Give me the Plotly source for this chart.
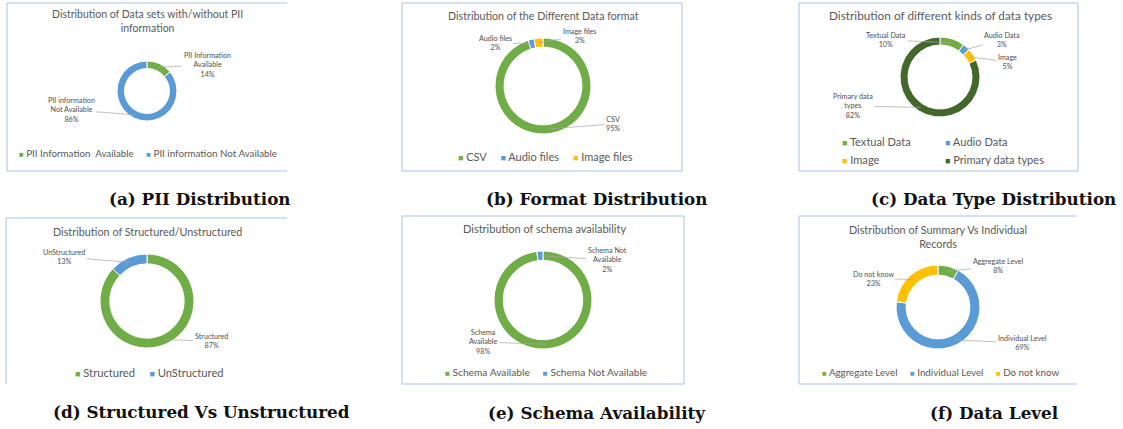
import math
import plotly.graph_objects as go

W, H = 1123, 429

# ---------------- data ----------------
pii_labels = ["PII Information  Available", "PII information Not Available"]
pii_text = ["PII Information<br>Available", "PII information<br>Not Available"]
pii_values = [14, 86]

fmt_labels = ["CSV", "Audio files", "Image files"]
fmt_text = ["CSV", "Audio files", "Image files"]
fmt_values = [95, 2, 3]

dtype_labels = ["Textual Data", "Audio Data", "Image", "Primary data types"]
dtype_text = ["Textual Data", "Audio Data", "Image", "Primary data<br>types"]
dtype_values = [10, 3, 5, 82]

struct_labels = ["Structured", "UnStructured"]
struct_text = ["Structured", "UnStructured"]
struct_values = [87, 13]

schema_labels = ["Schema Available", "Schema Not Available"]
schema_text = ["Schema<br>Available", "Schema Not<br>Available"]
schema_values = [98, 2]

level_labels = ["Aggregate Level", "Individual Level", "Do not know"]
level_text = ["Aggregate Level", "Individual Level", "Do not know"]
level_values = [8, 69, 23]

chart_titles = [
    "Distribution of Data sets with/without PII<br>information",
    "Distribution of the Different Data format",
    "Distribution of different kinds of data types",
    "Distribution of Structured/Unstructured",
    "Distribution of schema availability",
    "Distribution of Summary Vs Individual<br>Records",
]
captions = [
    "(a) PII Distribution",
    "(b) Format Distribution",
    "(c) Data Type Distribution",
    "(d) Structured Vs Unstructured",
    "(e) Schema Availability",
    "(f) Data Level",
]

# ---------------- styling ----------------
GREEN, BLUE, ORANGE, DKGREEN = "#70AD47", "#5B9BD5", "#FFC000", "#43682B"
TXT = "#595959"
FRAME = "#A9C1E8"
FONT = "Lato"

panels = [
    dict(labels=pii_labels, text=pii_text, values=pii_values, colors=[GREEN, BLUE],
         c=(147, 91), r=30, hole=0.75,
         frame=(7, 3, 287, 171), sides="ltb",
         title=(147, 21), tsize=10.5,
         lab=[(207, 65), (71, 110)],
         leg=[(148, 153, "center", [0, 1])], lsize=9.8),
    dict(labels=fmt_labels, text=fmt_text, values=fmt_values, colors=[GREEN, BLUE, ORANGE],
         c=(543, 86), r=48, hole=0.81,
         frame=(402, 3, 682, 171), sides="ltbr",
         title=(543, 15), tsize=10.7,
         lab=[(613, 124), (495, 43), (579, 36)],
         leg=[(545, 157, "center", [0, 1, 2])], lsize=11),
    dict(labels=dtype_labels, text=dtype_text, values=dtype_values, colors=[GREEN, BLUE, ORANGE, DKGREEN],
         c=(940, 77), r=40, hole=0.8,
         frame=(799, 3, 1078, 171), sides="ltbr",
         title=(940, 15), tsize=11.8,
         lab=[(886, 40), (1002, 40), (1007, 62), (853, 106)],
         leg=[(840, 141, "left", [0]), (943, 141, "left", [1]),
              (840, 159, "left", [2]), (943, 159, "left", [3])], lsize=11.1),
    dict(labels=struct_labels, text=struct_text, values=struct_values, colors=[GREEN, BLUE],
         c=(147, 301), r=47, hole=0.79,
         frame=(6, 218, 287, 384), sides="lt",
         title=(147, 231), tsize=10.8,
         lab=[(211, 341), (64, 257)],
         leg=[(149, 372, "center", [0, 1])], lsize=11.2),
    dict(labels=schema_labels, text=schema_text, values=schema_values, colors=[GREEN, BLUE],
         c=(543, 300), r=49, hole=0.81,
         frame=(402, 216, 684, 384), sides="ltbr",
         title=(544, 228), tsize=11,
         lab=[(483, 342), (607, 260)],
         leg=[(546, 372, "center", [0, 1])], lsize=10.2),
    dict(labels=level_labels, text=level_text, values=level_values, colors=[GREEN, BLUE, ORANGE],
         c=(938, 307), r=42, hole=0.76,
         frame=(799, 216, 1077, 384), sides="ltb",
         title=(938, 236.5), tsize=10.8,
         lab=[(998, 266), (1022, 343), (873, 279)],
         leg=[(940, 372, "center", [0, 1, 2])], lsize=9.8),
]
caption_pos = [(200, 199), (597, 199), (993, 199), (201, 412), (597, 413), (994, 413)]


def px(x):
    return x / W


def py(y):
    return 1 - y / H


fig = go.Figure()
shapes = []
annotations = []

for i, p in enumerate(panels):
    cx, cy = p["c"]
    r = p["r"]
    fig.add_trace(go.Pie(
        labels=p["labels"], values=p["values"], hole=p["hole"],
        sort=False, direction="clockwise", rotation=0,
        marker=dict(colors=p["colors"], line=dict(color="white", width=1)),
        textinfo="none", hoverinfo="label+percent", showlegend=False,
        domain=dict(x=[px(cx - r), px(cx + r)], y=[py(cy + r), py(cy - r)]),
    ))

    # frame
    x0, y0, x1, y1 = p["frame"]
    seg = {"l": (x0, y0, x0, y1), "t": (x0, y0, x1, y0),
           "b": (x0, y1, x1, y1), "r": (x1, y0, x1, y1)}
    for s in p["sides"]:
        a, b, c, d = seg[s]
        shapes.append(dict(type="line", xref="paper", yref="paper",
                           x0=px(a), y0=py(b), x1=px(c), y1=py(d),
                           line=dict(color=FRAME, width=1)))

    # chart title
    tx, ty = p["title"]
    annotations.append(dict(text=chart_titles[i], x=px(tx), y=py(ty), xref="paper", yref="paper",
                            showarrow=False, xanchor="center", yanchor="middle",
                            font=dict(family=FONT, size=p["tsize"], color=TXT)))

    # data labels with leader lines
    total = sum(p["values"])
    cum = 0
    rm = r * (1 + p["hole"]) / 2
    for j, v in enumerate(p["values"]):
        mid = (cum + v / 2) / total * 2 * math.pi
        cum += v
        tipx = cx + rm * math.sin(mid)
        tipy = cy - rm * math.cos(mid)
        lx, ly = p["lab"][j]
        pct = round(v / total * 100)
        annotations.append(dict(
            text=f"{p['text'][j]}<br>{pct}%", x=px(tipx), y=py(tipy), xref="paper", yref="paper",
            showarrow=True, arrowhead=0, arrowwidth=0.7, arrowcolor="#A6A6A6",
            ax=lx - tipx, ay=ly - tipy, standoff=0, startstandoff=0,
            font=dict(family=FONT, size=7.2, color="#505050"), align="center"))

    # legend rows
    for (lx, ly, anchor, idx) in p["leg"]:
        items = []
        for j in idx:
            items.append(f'<span style="color:{p["colors"][j]};font-size:{p["lsize"] * 0.8:.1f}px">■</span>'
                         f'\u00a0{p["labels"][j]}')
        annotations.append(dict(
            text=("\u00a0" * 5).join(items), x=px(lx), y=py(ly), xref="paper", yref="paper",
            showarrow=False, xanchor=anchor, yanchor="middle",
            font=dict(family=FONT, size=p["lsize"], color=TXT)))

# captions
for cap, (cx, cy) in zip(captions, caption_pos):
    annotations.append(dict(text=f"<b>{cap}</b>", x=px(cx), y=py(cy), xref="paper", yref="paper",
                            showarrow=False, xanchor="center", yanchor="middle",
                            font=dict(family="DejaVu Serif", size=16.8, color="#111111")))

fig.update_layout(width=W, height=H, margin=dict(l=0, r=0, t=0, b=0),
                  paper_bgcolor="white", plot_bgcolor="white",
                  shapes=shapes, annotations=annotations, showlegend=False)

fig.write_html("out.html", config={"displayModeBar": False},
               post_script="document.body.style.margin='0px';document.body.style.overflow='hidden';")
